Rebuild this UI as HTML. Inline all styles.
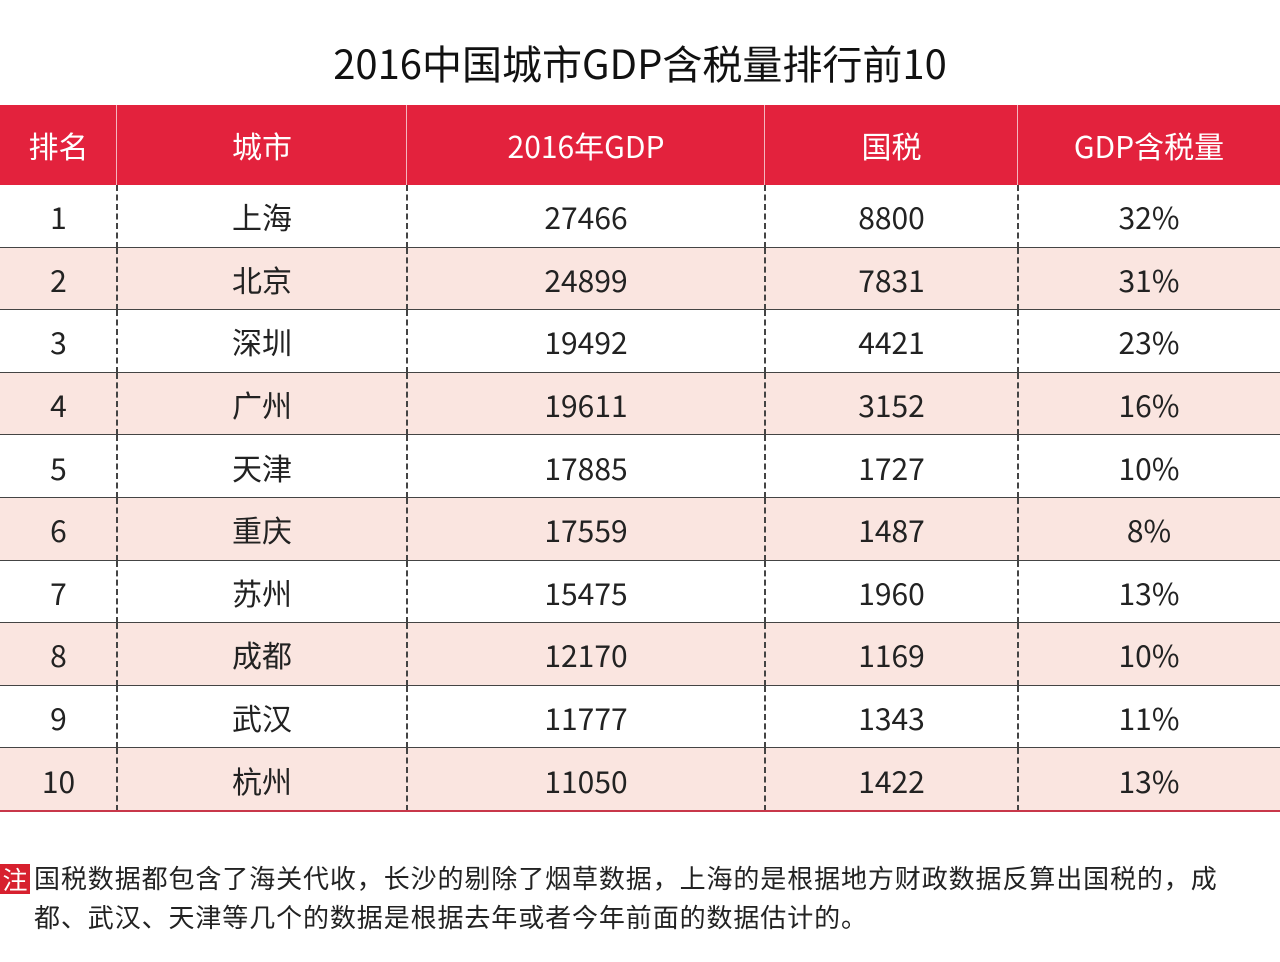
<!DOCTYPE html>
<html><head><meta charset="utf-8">
<style>
*{margin:0;padding:0;box-sizing:border-box}
body{width:1280px;height:962px;background:#fff;position:relative;overflow:hidden;font-family:"Noto Sans CJK SC","Liberation Sans",sans-serif;color:#222}
#title{position:absolute;left:0;top:34px;width:1280px;text-align:center;font-size:40px;line-height:56px;color:#111}
#tbl{position:absolute;left:0;top:105px;width:1280px}
.row{position:absolute;left:0;width:1280px;height:62.6px}
.hdr{top:0;height:80px;background:#e3223d;color:#fff}
.cell{position:absolute;top:0;height:100%;display:flex;align-items:center;justify-content:center;font-size:30px;line-height:40px;color:#222}
.hdr .cell{color:#fff}
.vl{position:absolute;top:0;height:100%;width:0}
.hdr .vl{border-left:1.5px solid #f4b6bf}
.body .vl{border-left:2px dashed #444}
.hl{position:absolute;left:0;width:1280px;height:2px;background:#444}
#note{position:absolute;left:0;top:858px;width:1280px;font-size:26px;line-height:39px;letter-spacing:0.9px;color:#222;white-space:nowrap}
#zhu{position:absolute;left:0;top:864px;width:30px;height:30px;background:#d7202e;color:#fff;font-size:25px;line-height:30px;text-align:center}
</style></head><body>
<div id="title">2016中国城市GDP含税量排行前10</div>
<div id="tbl"></div>
<div id="zhu">注</div>
<div id="note"><div style="padding-left:34px">国税数据都包含了海关代收，长沙的剔除了烟草数据，上海的是根据地方财政数据反算出国税的，成</div><div style="padding-left:34px">都、武汉、天津等几个的数据是根据去年或者今年前面的数据估计的。</div></div>
<script>
const headers=["排名","城市","2016年GDP","国税","GDP含税量"];
const ranks=["1","2","3","4","5","6","7","8","9","10"];
const cities=["上海","北京","深圳","广州","天津","重庆","苏州","成都","武汉","杭州"];
const gdp=[27466,24899,19492,19611,17885,17559,15475,12170,11777,11050];
const tax=[8800,7831,4421,3152,1727,1487,1960,1169,1343,1422];
const ratio=["32%","31%","23%","16%","10%","8%","13%","10%","11%","13%"];
const colX=[0,117,407,765,1018,1280];
const tbl=document.getElementById('tbl');
function makeRow(vals,top,h,cls,bg){
  const r=document.createElement('div');
  r.className='row '+cls;
  
  
  r.style.top=top+'px';r.style.height=h+'px';
  if(bg)r.style.background=bg;
  vals.forEach((v,i)=>{
    const c=document.createElement('div');
    c.className='cell';
    
    
    c.style.left=colX[i]+'px';c.style.width=(colX[i+1]-colX[i])+'px';
    c.textContent=v;r.appendChild(c);
    if(i>0){const l=document.createElement('div');l.className='vl';l.style.left=(colX[i]-1)+'px';r.appendChild(l);}
  });
  tbl.appendChild(r);
}
makeRow(headers,0,80,'hdr');
const rh=62.6;
for(let i=0;i<ranks.length;i++){
  const top=80+i*rh;
  makeRow([ranks[i],cities[i],gdp[i],tax[i],ratio[i]],top,rh,'body',i%2?'#fae5e0':'#fff');
  const hl=document.createElement('div');
  hl.className='hl';
  
  
  hl.style.top=(top+rh-1)+'px';
  if(i===ranks.length-1)hl.style.background='#c8374a';
  tbl.appendChild(hl);
}
</script>
</body></html>
